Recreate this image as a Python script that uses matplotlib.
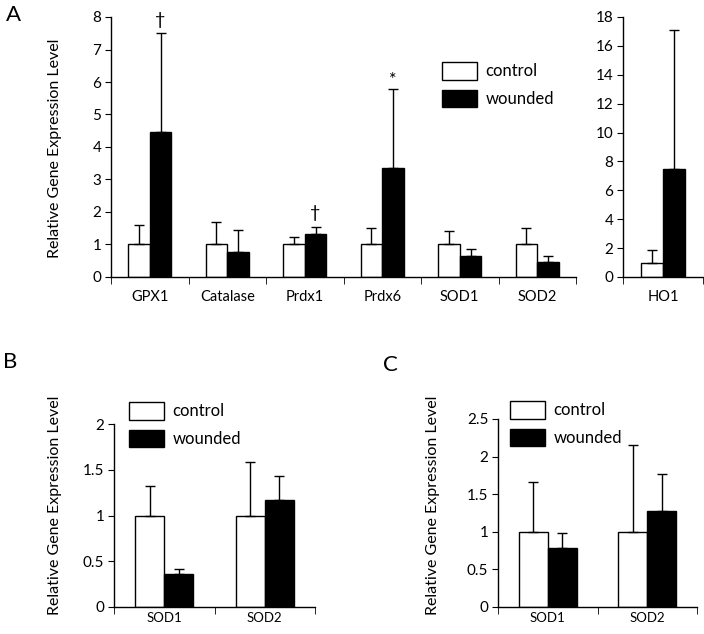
import numpy as np
import matplotlib
matplotlib.use("Agg")
import matplotlib.pyplot as plt
from matplotlib.patches import Patch

plt.rcParams["font.family"] = ["Lato", "DejaVu Sans"]

# Panel A: antioxidant genes
genes_a = ["GPX1", "Catalase", "Prdx1", "Prdx6", "SOD1", "SOD2"]
ctrl_a = [1.0, 1.0, 1.0, 1.0, 1.0, 1.0]
ctrl_a_err = [0.60, 0.68, 0.24, 0.50, 0.42, 0.52]
wound_a = [4.47, 0.77, 1.31, 3.34, 0.65, 0.45]
wound_a_err = [3.03, 0.68, 0.24, 2.43, 0.22, 0.20]
marks_a = ["\u2020", "", "\u2020", "*", "", ""]

# Panel A: HO1 on its own scale
genes_ho = ["HO1"]
ctrl_ho = [1.0]
ctrl_ho_err = [0.90]
wound_ho = [7.47]
wound_ho_err = [9.63]

# Panel B
genes_b = ["SOD1", "SOD2"]
ctrl_b = [1.0, 1.0]
ctrl_b_err = [0.32, 0.58]
wound_b = [0.36, 1.165]
wound_b_err = [0.05, 0.265]

# Panel C
genes_c = ["SOD1", "SOD2"]
ctrl_c = [1.0, 1.0]
ctrl_c_err = [0.66, 1.15]
wound_c = [0.785, 1.27]
wound_c_err = [0.195, 0.50]

W, H = 704, 634
fig = plt.figure(figsize=(W / 100, H / 100), dpi=100)


def px_axes(x0, y0, x1, y1):
    # pixel box (left, top, right, bottom) -> figure axes
    return fig.add_axes([x0 / W, 1 - y1 / H, (x1 - x0) / W, (y1 - y0) / H])


def draw_bars(ax, genes, ctrl, ctrl_err, wound, wound_err, ylim, yticks,
              xfs, yfs, xpad, width=0.28):
    x = np.arange(len(genes))
    ekw = dict(ecolor="black", elinewidth=1.0, capsize=3.5, capthick=1.0)
    ax.bar(x - width / 2, ctrl, width, color="white", edgecolor="black",
           linewidth=1.0, yerr=[np.zeros(len(genes)), ctrl_err],
           error_kw=ekw, zorder=2, label="control")
    ax.bar(x + width / 2, wound, width, color="black", edgecolor="black",
           linewidth=1.0, yerr=[np.zeros(len(genes)), wound_err],
           error_kw=ekw, zorder=2, label="wounded")
    ax.set_xlim(-0.5, len(genes) - 0.5)
    ax.set_ylim(*ylim)
    ax.set_yticks(yticks)
    ax.set_yticklabels([f"{t:g}" for t in yticks], fontsize=yfs)
    ax.set_xticks(x)
    ax.set_xticklabels(genes, fontsize=xfs)
    ax.set_xticks(np.arange(len(genes) + 1) - 0.5, minor=True)
    ax.tick_params(axis="x", which="major", length=0, pad=xpad)
    ax.tick_params(axis="x", which="minor", length=5, direction="out")
    ax.tick_params(axis="y", length=4, direction="out", pad=3)
    for s in ["top", "right"]:
        ax.spines[s].set_visible(False)
    for s in ["left", "bottom"]:
        ax.spines[s].set_linewidth(1.0)
    return x


def legend_at(ax, px, py):
    handles = [Patch(facecolor="white", edgecolor="black", linewidth=1.0),
               Patch(facecolor="black", edgecolor="black", linewidth=1.0)]
    ax.legend(handles, ["control", "wounded"], loc="upper left",
              bbox_to_anchor=(px / W, 1 - py / H),
              bbox_transform=fig.transFigure, frameon=False, fontsize=12,
              handlelength=2.1, handleheight=1.25, labelspacing=0.6,
              handletextpad=0.5, borderpad=0, borderaxespad=0)


# --- Panel A main
axA = px_axes(111, 17, 576, 277)
xa = draw_bars(axA, genes_a, ctrl_a, ctrl_a_err, wound_a, wound_a_err,
               (0, 8), range(0, 9), 10.5, 11, 9.5)
for xi, v, e, m in zip(xa, wound_a, wound_a_err, marks_a):
    if m:
        off = 4 if m != "*" else 1
        axA.annotate(m, (xi + 0.14, v + e), xytext=(0, off),
                     textcoords="offset points", ha="center", va="bottom",
                     fontsize=13, annotation_clip=False)
legend_at(axA, 442, 62)
fig.text(55 / W, 1 - 148 / H, "Relative Gene Expression Level", rotation=90,
         ha="center", va="center", fontsize=11.5)

# --- Panel A HO1
axH = px_axes(623, 17, 703, 277)
draw_bars(axH, genes_ho, ctrl_ho, ctrl_ho_err, wound_ho, wound_ho_err,
          (0, 18), range(0, 19, 2), 10.5, 11, 9.5)

# --- Panel B
axB = px_axes(114, 424, 315, 607)
draw_bars(axB, genes_b, ctrl_b, ctrl_b_err, wound_b, wound_b_err,
          (0, 2), [0, 0.5, 1, 1.5, 2], 9.5, 11, 3.5, width=0.29)
legend_at(axB, 129, 402)
fig.text(55 / W, 1 - 505 / H, "Relative Gene Expression Level", rotation=90,
         ha="center", va="center", fontsize=11.5)

# --- Panel C
axC = px_axes(498, 419, 697, 607)
draw_bars(axC, genes_c, ctrl_c, ctrl_c_err, wound_c, wound_c_err,
          (0, 2.5), [0, 0.5, 1, 1.5, 2, 2.5], 9.5, 11, 3.5, width=0.29)
legend_at(axC, 510, 401)
fig.text(433 / W, 1 - 505 / H, "Relative Gene Expression Level", rotation=90,
         ha="center", va="center", fontsize=11.5)

# panel letters
fig.text(6 / W, 1 - 15 / H, "A", fontsize=16, ha="left", va="center")
fig.text(3 / W, 1 - 362 / H, "B", fontsize=16, ha="left", va="center")
fig.text(383 / W, 1 - 365 / H, "C", fontsize=16, ha="left", va="center")

fig.savefig("out.png", dpi=100)
